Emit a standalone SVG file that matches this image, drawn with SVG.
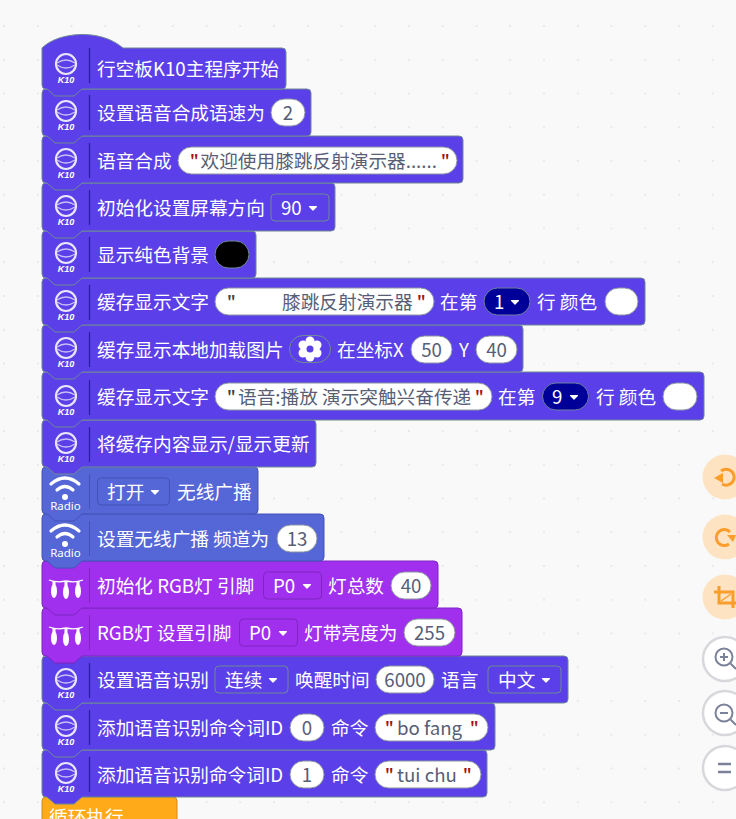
<svg xmlns="http://www.w3.org/2000/svg" xmlns:xlink="http://www.w3.org/1999/xlink" width="736" height="819" viewBox="0 0 736 819">
<style>
text{font-family:"Noto Sans CJK SC","Noto Sans",sans-serif;font-size:18.67px;dominant-baseline:central;transform:translateY(-0.7px)}
.l{fill:#fff}
.v{fill:#575e75}
.q{fill:#a31515;font-weight:bold;font-size:15px}
.d{fill:#444;font-weight:bold;font-size:15px}
.k{fill:#5b3fe8;stroke:#6f8a96;stroke-width:1}
.r{fill:#5566d6;stroke:#4452b8;stroke-width:1}
.g{fill:#a030ee;stroke:#7f25c2;stroke-width:1}
.o{fill:#ffab19;stroke:#cf8b17;stroke-width:1}
.p{fill:#fff;stroke:#8a96a0;stroke-width:1}
.dk{fill:none;stroke:#6f8a96}
.dr{fill:none;stroke:#4452b8}
.dg{fill:none;stroke:#7f25c2}
.nv{fill:#000099;stroke:#6f7fa0}
.bt{fill:#fde3c2}
.wb{fill:#fff;stroke:#d8d8dc;stroke-width:2.5}
.oi{fill:none;stroke:#fa9d2b;stroke-width:3}
.gi{fill:none;stroke:#7c8299;stroke-width:2}
.tag{font-size:9px;font-weight:bold;font-style:italic;text-anchor:middle;font-family:"Liberation Sans",sans-serif}
.rt{font-size:11.500px;text-anchor:middle;font-family:"Noto Sans",sans-serif}
</style>
<defs>
<pattern id="dots" x="3" y="25" width="33.75" height="33.75" patternUnits="userSpaceOnUse">
<rect x="0" y="0" width="2" height="2" fill="#e9e9e9"/>
</pattern>
<g id="i-k10">
<circle cx="66" cy="0" r="10" fill="none" stroke="#ebe6fd" stroke-width="2.200"/>
<path d="M57,-1 Q66,-7 75,-1" fill="none" stroke="#c9bef6" stroke-width="1.500"/>
<path d="M57,1 Q66,7 75,1" fill="none" stroke="#c9bef6" stroke-width="1.500"/>
<line x1="89.500" y1="-16" x2="89.500" y2="19" stroke="#2a1aa8" stroke-width="1.200"/>
<text class="l tag" x="66" y="16.500">K10</text>
</g>
<g id="i-radio">
<path d="M51,-7 Q65,-19 79,-7" fill="none" stroke="#fff" stroke-width="3.200" stroke-linecap="round"/>
<path d="M57,-1 Q65,-8 73,-1" fill="none" stroke="#fff" stroke-width="3.200" stroke-linecap="round"/>
<circle cx="65" cy="6" r="3" fill="#fff"/>
<line x1="89.500" y1="-17" x2="89.500" y2="18" stroke="#4452b8" stroke-width="1"/>
<text class="l rt" x="65.500" y="15.500">Radio</text>
</g>
<g id="i-rgb">
<path d="M49,-5 Q57,-2 66,-4 Q75,-2 83,-5" fill="none" stroke="#fff" stroke-width="1.300"/>
<ellipse cx="54" cy="6" rx="3" ry="7" fill="#fff"/>
<ellipse cx="66" cy="7" rx="3" ry="7" fill="#fff"/>
<ellipse cx="78" cy="6" rx="3" ry="7" fill="#fff"/>
<rect x="52.500" y="-4" width="3" height="4" fill="#fff"/>
<rect x="64.500" y="-3" width="3" height="4" fill="#fff"/>
<rect x="76.500" y="-4" width="3" height="4" fill="#fff"/>
<line x1="89.500" y1="-17" x2="89.500" y2="18" stroke="#7f25c2" stroke-width="1"/>
</g>
<path id="arr" d="M-3.500,-1.500 H3.500 L0,2 Z" stroke="#fff" stroke-width="1.200" stroke-linejoin="round" fill="#fff"/>
</defs>
<rect width="736" height="819" fill="#f9f9f9"/>
<rect width="736" height="819" fill="url(#dots)"/>

<g id="connectors"></g>

<g id="node-17">
<path class="o" d="M42,801 a4,4 0 0 1 4,-4 H173 a4,4 0 0 1 4,4 V830 H42 Z"/>
<text class="l" x="49" y="816">循环执行</text>
</g>

<g id="node-16">
<path class="k" d="M42,754 a4,4 0 0 1 4,-4 H483 a4,4 0 0 1 4,4 V793 a4,4 0 0 1 -4,4 H82 L74,804 H55 L47,797 H46 a4,4 0 0 1 -4,-4 Z"/>
<use href="#i-k10" y="773"/>
<text class="l" x="97" y="774">添加语音识别命令词ID</text>
<rect class="p" x="290" y="761" width="34" height="27" rx="13.500"/>
<text class="v" x="307" y="774" text-anchor="middle">1</text>
<text class="l" x="331" y="774">命令</text>
<rect class="p" x="375" y="761" width="106" height="27" rx="13.500"/>
<text class="q" x="385" y="774">"</text>
<text class="v" x="397" y="774">tui chu</text>
<text class="q" x="463" y="774">"</text>
</g>

<g id="node-15">
<path class="k" d="M42,707 a4,4 0 0 1 4,-4 H491 a4,4 0 0 1 4,4 V746 a4,4 0 0 1 -4,4 H82 L74,757 H55 L47,750 H46 a4,4 0 0 1 -4,-4 Z"/>
<use href="#i-k10" y="726"/>
<text class="l" x="97" y="727">添加语音识别命令词ID</text>
<rect class="p" x="290" y="714" width="34" height="27" rx="13.500"/>
<text class="v" x="307" y="727" text-anchor="middle">0</text>
<text class="l" x="331" y="727">命令</text>
<rect class="p" x="375" y="714" width="113" height="27" rx="13.500"/>
<text class="q" x="385" y="727">"</text>
<text class="v" x="397" y="727">bo fang</text>
<text class="q" x="470" y="727">"</text>
</g>

<g id="node-14">
<path class="k" d="M42,660 a4,4 0 0 1 4,-4 H564 a4,4 0 0 1 4,4 V699 a4,4 0 0 1 -4,4 H82 L74,710 H55 L47,703 H46 a4,4 0 0 1 -4,-4 Z"/>
<use href="#i-k10" y="679"/>
<text class="l" x="97" y="679">设置语音识别</text>
<rect class="dk" x="215" y="666" width="73" height="27" rx="4"/>
<text class="l" x="225" y="679">连续</text>
<use href="#arr" x="273" y="680"/>
<text class="l" x="295" y="679">唤醒时间</text>
<rect class="p" x="376" y="666" width="58" height="27" rx="13.500"/>
<text class="v" x="405" y="679" text-anchor="middle">6000</text>
<text class="l" x="441" y="679">语言</text>
<rect class="dk" x="488" y="666" width="73" height="27" rx="4"/>
<text class="l" x="498" y="679">中文</text>
<use href="#arr" x="546" y="680"/>
</g>

<g id="node-13">
<path class="g" d="M42,612 a4,4 0 0 1 4,-4 H458 a4,4 0 0 1 4,4 V652 a4,4 0 0 1 -4,4 H82 L74,663 H55 L47,656 H46 a4,4 0 0 1 -4,-4 Z"/>
<use href="#i-rgb" y="632"/>
<text class="l" x="97" y="632">RGB灯 设置引脚</text>
<rect class="dg" x="239.500" y="619" width="58" height="27" rx="4"/>
<text class="l" x="249" y="632">P0</text>
<use href="#arr" x="283" y="633"/>
<text class="l" x="304" y="632">灯带亮度为</text>
<rect class="p" x="404" y="619" width="51" height="27" rx="13.500"/>
<text class="v" x="429.500" y="632" text-anchor="middle">255</text>
</g>

<g id="node-12">
<path class="g" d="M42,565 a4,4 0 0 1 4,-4 H434 a4,4 0 0 1 4,4 V604 a4,4 0 0 1 -4,4 H82 L74,615 H55 L47,608 H46 a4,4 0 0 1 -4,-4 Z"/>
<use href="#i-rgb" y="585"/>
<text class="l" x="97" y="585">初始化 RGB灯 引脚</text>
<rect class="dg" x="263.500" y="572" width="58" height="27" rx="4"/>
<text class="l" x="273" y="585">P0</text>
<use href="#arr" x="307" y="586"/>
<text class="l" x="328" y="585">灯总数</text>
<rect class="p" x="391" y="572" width="40" height="27" rx="13.500"/>
<text class="v" x="411" y="585" text-anchor="middle">40</text>
</g>

<g id="node-11">
<path class="r" d="M42,518 a4,4 0 0 1 4,-4 H320 a4,4 0 0 1 4,4 V557 a4,4 0 0 1 -4,4 H82 L74,568 H55 L47,561 H46 a4,4 0 0 1 -4,-4 Z"/>
<use href="#i-radio" y="538"/>
<text class="l" x="97" y="538">设置无线广播 频道为</text>
<rect class="p" x="277" y="525" width="40" height="27" rx="13.500"/>
<text class="v" x="297" y="538" text-anchor="middle">13</text>
</g>

<g id="node-10">
<path class="r" d="M42,471 a4,4 0 0 1 4,-4 H254 a4,4 0 0 1 4,4 V510 a4,4 0 0 1 -4,4 H82 L74,521 H55 L47,514 H46 a4,4 0 0 1 -4,-4 Z"/>
<use href="#i-radio" y="491"/>
<rect class="dr" x="97.500" y="478" width="72" height="27" rx="4"/>
<text class="l" x="107" y="491">打开</text>
<use href="#arr" x="155" y="492"/>
<text class="l" x="177" y="491">无线广播</text>
</g>

<g id="node-9">
<path class="k" d="M42,424 a4,4 0 0 1 4,-4 H312 a4,4 0 0 1 4,4 V463 a4,4 0 0 1 -4,4 H82 L74,474 H55 L47,467 H46 a4,4 0 0 1 -4,-4 Z"/>
<use href="#i-k10" y="443"/>
<text class="l" x="97" y="443">将缓存内容显示/显示更新</text>
</g>

<g id="node-8">
<path class="k" d="M42,376 a4,4 0 0 1 4,-4 H700 a4,4 0 0 1 4,4 V416 a4,4 0 0 1 -4,4 H82 L74,427 H55 L47,420 H46 a4,4 0 0 1 -4,-4 Z"/>
<use href="#i-k10" y="396"/>
<text class="l" x="97" y="396">缓存显示文字</text>
<rect class="p" x="215" y="383" width="277" height="27" rx="13.500"/>
<text class="d" x="227" y="396">"</text>
<text class="v" x="238" y="396">语音:播放 演示突触兴奋传递</text>
<text class="q" x="475" y="396">"</text>
<text class="l" x="498" y="396">在第</text>
<rect class="nv" x="542.500" y="383" width="46" height="27" rx="13.500"/>
<text class="l" x="552" y="396">9</text>
<use href="#arr" x="574" y="397"/>
<text class="l" x="596" y="396">行 颜色</text>
<rect class="p" x="663" y="383" width="34" height="27" rx="13.500"/>
</g>

<g id="node-7">
<path class="k" d="M42,329 a4,4 0 0 1 4,-4 H519 a4,4 0 0 1 4,4 V368 a4,4 0 0 1 -4,4 H82 L74,379 H55 L47,372 H46 a4,4 0 0 1 -4,-4 Z"/>
<use href="#i-k10" y="348"/>
<text class="l" x="97" y="349">缓存显示本地加载图片</text>
<rect x="289.500" y="335.500" width="41" height="27" rx="13.500" fill="none" stroke="#6f8a96"/>
<g fill="#fff">
<circle cx="310" cy="341" r="4.500"/><circle cx="310" cy="357" r="4.500"/>
<circle cx="303" cy="345" r="4.500"/><circle cx="317" cy="345" r="4.500"/>
<circle cx="303" cy="353" r="4.500"/><circle cx="317" cy="353" r="4.500"/>
<circle cx="310" cy="349" r="7.500"/>
</g>
<circle cx="310" cy="349" r="3.500" fill="#5b3fe8"/>
<text class="l" x="337" y="349">在坐标X</text>
<rect class="p" x="411" y="336" width="41" height="27" rx="13.500"/>
<text class="v" x="431.500" y="349" text-anchor="middle">50</text>
<text class="l" x="459" y="349">Y</text>
<rect class="p" x="476" y="336" width="41" height="27" rx="13.500"/>
<text class="v" x="496.500" y="349" text-anchor="middle">40</text>
</g>

<g id="node-6">
<path class="k" d="M42,282 a4,4 0 0 1 4,-4 H641 a4,4 0 0 1 4,4 V321 a4,4 0 0 1 -4,4 H82 L74,332 H55 L47,325 H46 a4,4 0 0 1 -4,-4 Z"/>
<use href="#i-k10" y="301"/>
<text class="l" x="97" y="301">缓存显示文字</text>
<rect class="p" x="215" y="288" width="219" height="27" rx="13.500"/>
<text class="d" x="227" y="301">"</text>
<text class="v" x="282" y="301">膝跳反射演示器</text>
<text class="q" x="417" y="301">"</text>
<text class="l" x="440" y="301">在第</text>
<rect class="nv" x="484" y="288" width="46" height="27" rx="13.500"/>
<text class="l" x="494" y="301">1</text>
<use href="#arr" x="515" y="302"/>
<text class="l" x="537" y="301">行 颜色</text>
<rect class="p" x="605" y="288" width="33" height="27" rx="13.500"/>
</g>

<g id="node-5">
<path class="k" d="M42,235 a4,4 0 0 1 4,-4 H252 a4,4 0 0 1 4,4 V274 a4,4 0 0 1 -4,4 H82 L74,285 H55 L47,278 H46 a4,4 0 0 1 -4,-4 Z"/>
<use href="#i-k10" y="253"/>
<text class="l" x="97" y="254">显示纯色背景</text>
<rect x="215" y="241" width="34" height="27" rx="13.500" fill="#000" stroke="#6f8a96"/>
</g>

<g id="node-4">
<path class="k" d="M42,187 a4,4 0 0 1 4,-4 H331 a4,4 0 0 1 4,4 V227 a4,4 0 0 1 -4,4 H82 L74,238 H55 L47,231 H46 a4,4 0 0 1 -4,-4 Z"/>
<use href="#i-k10" y="206"/>
<text class="l" x="97" y="207">初始化设置屏幕方向</text>
<rect class="dk" x="271" y="194" width="58" height="27" rx="4"/>
<text class="l" x="281" y="207">90</text>
<use href="#arr" x="313" y="208"/>
</g>

<g id="node-3">
<path class="k" d="M42,140 a4,4 0 0 1 4,-4 H459 a4,4 0 0 1 4,4 V179 a4,4 0 0 1 -4,4 H82 L74,190 H55 L47,183 H46 a4,4 0 0 1 -4,-4 Z"/>
<use href="#i-k10" y="159"/>
<text class="l" x="97" y="160">语音合成</text>
<rect class="p" x="178" y="147" width="279" height="27" rx="13.500"/>
<text class="q" x="190" y="160">"</text>
<text class="v" x="200.500" y="160">欢迎使用膝跳反射演示器......</text>
<text class="q" x="441" y="160">"</text>
</g>

<g id="node-2">
<path class="k" d="M42,93 a4,4 0 0 1 4,-4 H307 a4,4 0 0 1 4,4 V132 a4,4 0 0 1 -4,4 H82 L74,143 H55 L47,136 H46 a4,4 0 0 1 -4,-4 Z"/>
<use href="#i-k10" y="111"/>
<text class="l" x="97" y="112">设置语音合成语速为</text>
<rect class="p" x="271" y="99" width="34" height="27" rx="13.500"/>
<text class="v" x="288" y="112" text-anchor="middle">2</text>
</g>

<g id="node-1">
<path class="k" d="M42,48 C58,32 100,28 123,48 H282 a4,4 0 0 1 4,4 V85 a4,4 0 0 1 -4,4 H82 L74,96 H55 L47,89 H46 a4,4 0 0 1 -4,-4 Z"/>
<use href="#i-k10" y="64"/>
<text class="l" x="97" y="68">行空板K10主程序开始</text>
</g>

<g id="tools">
<circle class="bt" cx="725" cy="477" r="22.500"/>
<path class="oi" d="M721,471 A8,8 0 1 1 722,484"/>
<path d="M714,478 L723,473 L723,483 Z" fill="#fa9d2b"/>
<circle class="bt" cx="725" cy="537" r="22.500"/>
<path class="oi" d="M730,532 A8,8 0 1 0 729,544"/>
<path d="M727,535 L736,535 L733,542 Z" fill="#fa9d2b"/>
<circle class="bt" cx="725" cy="597" r="22.500"/>
<path class="oi" d="M719,586 V603 H736 M714,592 H733 V608"/>
<line x1="721" y1="601" x2="731" y2="594" stroke="#fa9d2b" stroke-width="1.500"/>
<circle class="wb" cx="725" cy="659" r="22"/>
<circle class="gi" cx="724" cy="657" r="8.500"/>
<path class="gi" d="M720,657 H728 M724,653 V661 M730.500,663.500 L736,669"/>
<circle class="wb" cx="725" cy="713" r="22"/>
<circle class="gi" cx="724" cy="713" r="8.500"/>
<path class="gi" d="M720,713 H728 M730.500,719.500 L736,725"/>
<circle class="wb" cx="725" cy="768" r="22"/>
<path d="M718,764 H731 M718,772 H731" fill="none" stroke="#7c8299" stroke-width="2.500"/>
</g>
</svg>
